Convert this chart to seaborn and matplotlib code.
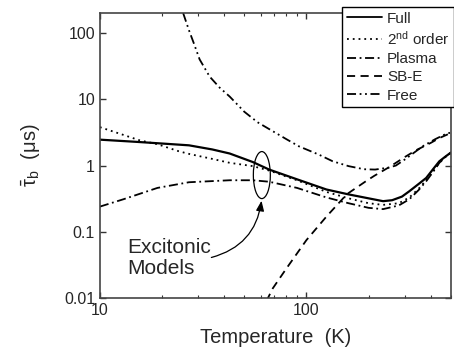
import numpy as np
import pandas as pd
import seaborn as sns
import matplotlib.pyplot as plt
from matplotlib.patches import Ellipse
from matplotlib.ticker import LogLocator, NullLocator, FixedLocator

# --- data (temperature in K, tau_b in microseconds) ---
t_full = [10, 15, 20, 27, 35, 42.5, 55, 66, 90, 125, 160, 200, 235, 260, 290,
          315, 350, 380, 410, 440, 470, 500]
tau_full = [2.46, 2.28, 2.15, 2.02, 1.75, 1.52, 1.13, 0.87, 0.62, 0.435, 0.367,
            0.32, 0.29, 0.3, 0.34, 0.41, 0.53, 0.65, 0.88, 1.16, 1.36, 1.57]

t_second = [10, 13, 15.6, 19, 24, 27, 35, 42.5, 55, 66, 90, 125, 160, 200, 235,
            280, 315, 350, 380, 410, 440, 470, 500]
tau_second = [3.8, 2.9, 2.4, 2.1, 1.65, 1.5, 1.26, 1.1, 0.98, 0.84, 0.6, 0.4,
              0.32, 0.27, 0.255, 0.27, 0.33, 0.45, 0.6, 0.82, 1.1, 1.35, 1.55]

t_plasma = [10, 13, 19, 27, 42.5, 55, 66, 90, 125, 160, 200, 235, 280, 315,
            350, 380, 410, 440, 470, 500]
tau_plasma = [0.24, 0.31, 0.46, 0.56, 0.6, 0.6, 0.57, 0.46, 0.33, 0.27, 0.23,
              0.22, 0.25, 0.31, 0.43, 0.58, 0.8, 1.1, 1.35, 1.55]

t_sbe = [64, 68.7, 80, 100, 125, 157, 194, 213, 252, 300, 339, 400, 440, 500]
tau_sbe = [0.009, 0.014, 0.028, 0.075, 0.17, 0.37, 0.58, 0.7, 0.95, 1.35, 1.7,
           2.2, 2.6, 3.1]

t_free = [25.3, 27, 28.5, 30.4, 34, 38, 42.5, 50, 58, 68.7, 80, 92, 115, 134,
          160, 190, 215, 250, 271, 300, 365, 420, 473, 500]
tau_free = [200, 110, 70, 40, 22, 15, 11, 6.5, 4.5, 3.3, 2.5, 1.95, 1.46, 1.16,
            0.98, 0.88, 0.87, 0.93, 1.0, 1.24, 1.95, 2.5, 3.0, 3.15]

labels = ["Full", r"2$^{\mathrm{nd}}$ order", "Plasma", "SB-E", "Free"]
dash_styles = {
    labels[0]: "",
    labels[1]: (1, 2.2),
    labels[2]: (5, 2, 1, 2),
    labels[3]: (4.5, 3),
    labels[4]: (5, 2, 1, 2, 1, 2),
}

frames = []
for lab, t, tau in zip(labels,
                       [t_full, t_second, t_plasma, t_sbe, t_free],
                       [tau_full, tau_second, tau_plasma, tau_sbe, tau_free]):
    frames.append(pd.DataFrame({"T": t, "tau": tau, "model": lab}))
df = pd.concat(frames, ignore_index=True)

sns.set_theme(style="ticks")
plt.rcParams["font.family"] = ["Liberation Sans", "DejaVu Sans"]
plt.rcParams["mathtext.fontset"] = "custom"
plt.rcParams["mathtext.rm"] = "Liberation Sans"
plt.rcParams["mathtext.it"] = "Liberation Sans:italic"

fig, ax = plt.subplots(figsize=(4.54, 3.54), dpi=100)
fig.subplots_adjust(left=0.220, right=0.993, bottom=0.158, top=0.963)

ax.set_xscale("log")
ax.set_yscale("log")
sns.lineplot(data=df, x="T", y="tau", hue="model", style="model",
             palette=["black"] * 5, dashes=dash_styles, sort=False,
             estimator=None, linewidth=1.3, ax=ax)
ax.get_lines()[0].set_linewidth(1.6)

ax.set_xlim(10, 500)
ax.set_ylim(0.01, 200)

ax.xaxis.set_major_locator(FixedLocator([10, 100]))
ax.xaxis.set_minor_locator(LogLocator(base=10, subs=np.arange(2, 10)))
ax.xaxis.set_major_formatter(plt.FuncFormatter(lambda v, p: f"{v:g}"))
ax.xaxis.set_minor_formatter(plt.NullFormatter())
ax.yaxis.set_major_locator(FixedLocator([0.01, 0.1, 1, 10, 100]))
ax.yaxis.set_minor_locator(NullLocator())
ax.yaxis.set_major_formatter(plt.FuncFormatter(lambda v, p: f"{v:g}"))

ax.tick_params(which="both", direction="in", top=True, right=True,
               labelsize=11.5, color="#333333")
ax.tick_params(which="major", length=4, width=1)
ax.tick_params(which="minor", length=2.5, width=0.8)
for sp in ax.spines.values():
    sp.set_linewidth(1.2)
    sp.set_color("#444444")

ax.set_xlabel("Temperature  (K)", fontsize=14.5, labelpad=7)
ax.set_ylabel(r"$\bar{\mathrm{\tau}}_{\mathrm{b}}$  ($\mathrm{\mu}$s)",
              fontsize=14.5, labelpad=16)

# annotation: ellipse round the excitonic curves plus a curved arrow
ax.add_patch(Ellipse((0.4615, 0.4316), 0.0484, 0.165, transform=ax.transAxes,
                     fill=False, edgecolor="black", linewidth=0.9))
ax.annotate("", xy=(0.4615, 0.351), xycoords="axes fraction",
            xytext=(0.31, 0.14), textcoords="axes fraction",
            arrowprops=dict(arrowstyle="-|>,head_length=0.5,head_width=0.2",
                            color="black", lw=0.9,
                            connectionstyle="arc3,rad=0.35"))
ax.text(0.079, 0.07, "Excitonic\nModels", transform=ax.transAxes,
        fontsize=15, ha="left", va="bottom", linespacing=1.15)

handles, labs = ax.get_legend_handles_labels()
ax.get_legend().remove()
leg = fig.legend(handles, labs, loc="upper left",
                 bbox_to_anchor=(342 / 454, 347 / 354), fontsize=11,
                 frameon=True, fancybox=False, framealpha=1,
                 edgecolor="black", borderpad=0.3, labelspacing=0.28,
                 handlelength=2.3, handletextpad=0.35, borderaxespad=0)
leg.get_frame().set_linewidth(1.0)

fig.savefig("out.png", dpi=100)
